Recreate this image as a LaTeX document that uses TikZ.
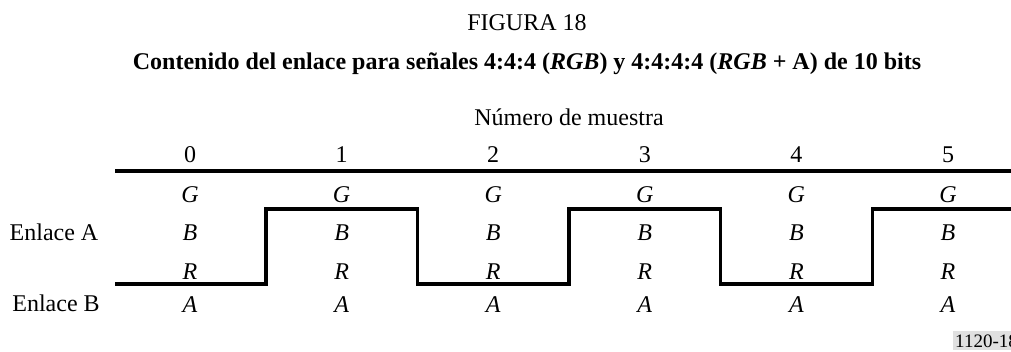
\documentclass[tikz,border=0pt]{standalone}
\usepackage{fontspec}
\setmainfont{Liberation Serif}
\begin{document}
\begin{tikzpicture}[x=1pt,y=-1pt,
  txt/.style={inner sep=0pt,anchor=base,font=\fontsize{24}{28}\selectfont},
  lbl/.style={txt,font=\fontsize{24}{28}\selectfont\itshape},
  thick line/.style={line width=3.2pt,line join=miter,line cap=butt}]
\useasboundingbox (0,0) rectangle (1011,352);
% titles
\node[txt] (fig) at (527,31) {FIGURA 18};
\node[txt,font=\fontsize{24}{28}\selectfont\bfseries] (title) at (527,70)
  {Contenido del enlace para señales 4:4:4 (\textit{RGB}) y 4:4:4:4 (\textit{RGB} + A) de 10 bits};
\node[txt] (num) at (569,126) {Número de muestra};
% side labels
\node[txt] (ea) at (54,241) {Enlace A};
\node[txt] (eb) at (56,312) {Enlace B};
% columns
\foreach \k in {0,...,5}{
  \pgfmathsetmacro{\cx}{190+151.6*\k}
  \node[txt] (n\k) at (\cx,163) {\k};
  \node[lbl] (g\k) at (\cx,203) {G};
  \node[lbl] (b\k) at (\cx,241) {B};
  \node[lbl] (r\k) at (\cx,280) {R};
  \node[lbl] (a\k) at (\cx,312.5) {A};
}
% top rule
\coordinate (tl) at (115,171.5);
\coordinate (tr) at (1012,171.5);
\draw[line width=4pt] (tl) -- (tr);
% step line
\coordinate (s0) at (115,284);
\coordinate (s1) at (266,284);
\coordinate (s2) at (266,209);
\coordinate (s3) at (417.4,209);
\coordinate (s4) at (417.4,284);
\coordinate (s5) at (569,284);
\coordinate (s6) at (569,209);
\coordinate (s7) at (720.6,209);
\coordinate (s8) at (720.6,284);
\coordinate (s9) at (872.2,284);
\coordinate (s10) at (872.2,209);
\coordinate (s11) at (1012,209);
\draw[thick line] (s0) -- (s1) -- (s2) -- (s3) -- (s4) -- (s5) -- (s6) -- (s7) -- (s8) -- (s9) -- (s10) -- (s11);
% figure code
\node[anchor=base west,fill=black!12,inner xsep=2pt,inner ysep=3pt,font=\fontsize{19}{22}\selectfont] (code) at (953,347) {1120-18};
\end{tikzpicture}
\end{document}
